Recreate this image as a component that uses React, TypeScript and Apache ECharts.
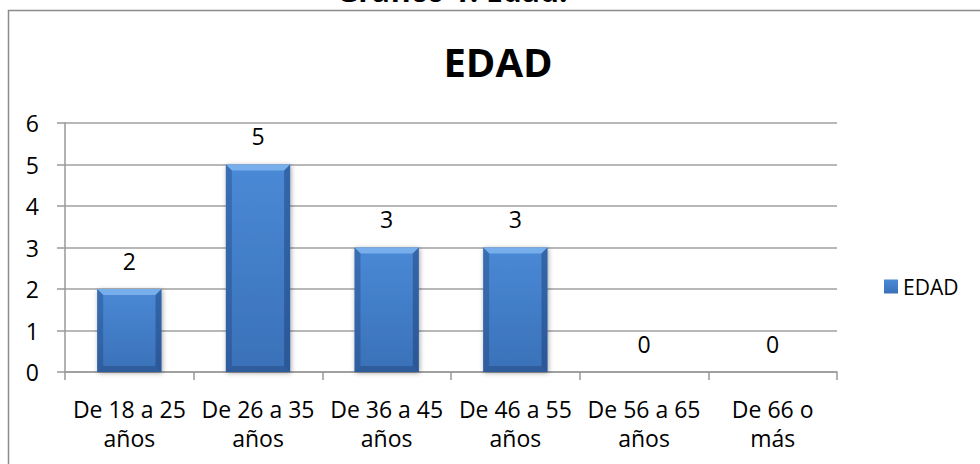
import React, { useEffect, useRef } from "react";
import * as echarts from "echarts";

const categories = [
  "De 18 a 25\naños",
  "De 26 a 35\naños",
  "De 36 a 45\naños",
  "De 46 a 55\naños",
  "De 56 a 65\naños",
  "De 66 o\nmás",
];
const values = [2, 5, 3, 3, 0, 0];
const seriesName = "EDAD";
const chartTitle = "EDAD";
const outerTitle = "Gráfico 1. Edad.";
const yTicks = { min: 0, max: 6, interval: 1 };

const FONT = "'Open Sans', 'Noto Sans', sans-serif";

export default function App() {
  const ref = useRef<HTMLDivElement>(null);
  useEffect(() => {
    if (!ref.current) return;
    const chart = echarts.init(ref.current, null, { renderer: "svg" });
    const barGrad = new echarts.graphic.LinearGradient(0, 0, 0, 1, [
      { offset: 0, color: "#4a89d6" },
      { offset: 1, color: "#3a71b8" },
    ]);
    chart.setOption({
      animation: false,
      backgroundColor: "#ffffff",
      textStyle: { fontFamily: FONT },
      graphic: [
        {
          type: "rect",
          z: -10,
          shape: { x: 8.5, y: 10.5, width: 1000, height: 500 },
          style: { fill: "#ffffff", stroke: "#8c8c8c", lineWidth: 1.5 },
        },
        {
          type: "text",
          x: 452,
          y: -10,
          style: {
            text: outerTitle,
            font: `bold 30px ${FONT}`,
            fill: "#000",
            align: "center",
            verticalAlign: "middle",
          },
        },
        {
          type: "text",
          x: 498,
          y: 61,
          style: {
            text: chartTitle,
            font: `bold 40px ${FONT}`,
            fill: "#000",
            align: "center",
            verticalAlign: "middle",
          },
        },
      ],
      legend: {
        data: [seriesName],
        left: 879,
        top: 271,
        icon: "rect",
        itemWidth: 14,
        itemHeight: 14,
        itemGap: 6,
        textStyle: { fontSize: 21, color: "#000", fontFamily: FONT },
      },
      grid: { left: 65, right: 143, top: 123, bottom: 92, containLabel: false },
      xAxis: {
        type: "category",
        data: categories,
        axisLine: { show: true, lineStyle: { color: "#999", width: 1.5 } },
        axisTick: { show: true, length: 8, alignWithLabel: false, lineStyle: { color: "#999", width: 1.5 } },
        axisLabel: {
          interval: 0,
          fontSize: 23,
          lineHeight: 29,
          color: "#000",
          margin: 22,
          fontFamily: FONT,
        },
      },
      yAxis: {
        type: "value",
        min: yTicks.min,
        max: yTicks.max,
        interval: yTicks.interval,
        axisLine: { show: true, lineStyle: { color: "#999", width: 1.5 } },
        axisTick: { show: true, length: 8, lineStyle: { color: "#999", width: 1.5 } },
        splitLine: { show: true, lineStyle: { color: "#a0a0a0", width: 1.5 } },
        axisLabel: { fontSize: 23, color: "#000", margin: 26, fontFamily: FONT },
      },
      series: [
        {
          name: seriesName,
          type: "bar",
          data: values,
          barWidth: "50%",
          itemStyle: {
            color: barGrad,
            shadowBlur: 5,
            shadowColor: "rgba(0,0,0,0.35)",
            shadowOffsetX: 1,
            shadowOffsetY: 1,
          },
          label: {
            show: true,
            position: "top",
            distance: 17,
            fontSize: 23,
            color: "#000",
            fontFamily: FONT,
          },
        },
        {
          name: "bevel",
          type: "custom",
          silent: true,
          z: 3,
          data: values.map((v, i) => [i, v]),
          encode: { x: 0, y: 1 },
          renderItem: (params: any, api: any) => {
            const idx = api.value(0);
            const v = api.value(1);
            const topPt = api.coord([idx, v]);
            const basePt = api.coord([idx, 0]);
            const w = api.size([1, 0])[0] * 0.5;
            const x0 = topPt[0] - w / 2;
            const x1 = topPt[0] + w / 2;
            const t = topPt[1];
            const b = basePt[1];
            if (b - t < 2) return null;
            const e = 6;
            return {
              type: "group",
              children: [
                {
                  type: "polygon",
                  shape: { points: [[x0, t], [x1, t], [x1 - e, t + e], [x0 + e, t + e]] },
                  style: { fill: "rgba(150,200,250,0.6)" },
                },
                {
                  type: "polygon",
                  shape: { points: [[x0, t], [x0 + e, t + e], [x0 + e, b - e], [x0, b]] },
                  style: { fill: "rgba(20,50,100,0.3)" },
                },
                {
                  type: "polygon",
                  shape: { points: [[x1, t], [x1 - e, t + e], [x1 - e, b - e], [x1, b]] },
                  style: { fill: "rgba(20,50,100,0.4)" },
                },
                {
                  type: "polygon",
                  shape: { points: [[x0, b], [x0 + e, b - e], [x1 - e, b - e], [x1, b]] },
                  style: { fill: "rgba(20,45,90,0.3)" },
                },
              ],
            };
          },
        },
      ],
    });
    return () => chart.dispose();
  }, []);
  return (
    <div
      ref={ref}
      style={{ position: "fixed", left: 0, top: 0, width: 980, height: 464 }}
    />
  );
}
